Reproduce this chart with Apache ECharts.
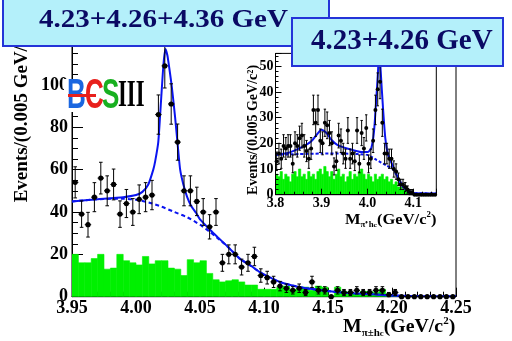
<!DOCTYPE html>
<html>
<head>
<meta charset="utf-8">
<script src="https://cdn.jsdelivr.net/npm/echarts@6.0.0/dist/echarts.min.js"></script>
<style>
  html, body { margin: 0; padding: 0; background: #fff; }
  #chart { width: 512px; height: 341px; }
</style>
</head>
<body>
<div id="chart"></div>
<script>
// ---- binning ----
const binWidth = 0.005;
const mainLowEdge = 3.95;
const insetLowEdge = 3.80;

// ---- main panel: 4.23+4.26+4.36 GeV, M(pi h_c) from 3.95 to 4.25 ----
const mainCounts = [
  54, 39, 34, 47, 56, 50, 53, 39, 44, 40,
  46, 47, 48, 86, 109, 91, 73, 50, 50, 45,
  40, 33, 40, 16, 20, 20, 14, 16, 19, 10,
  9, 7, 5, 4, 3, 4, 2, 7, 3, 3,
  0, 3, 2, 2, 3, 2, 2, 3, 3, 1,
  2, 0, 0, 0, 0, 0, 0, 0, 0, 0
];
const mainSideband = [
  20, 16, 16, 18, 20, 13, 13.5, 20, 17, 16,
  15, 19, 15.5, 17, 17, 13.5, 13, 10, 17.5, 16,
  17, 11, 8, 7, 7.5, 8, 7, 5.5, 5.5, 3.5,
  3.5, 3.5, 4.5, 5, 3.5, 3.5, 4.5, 3, 5, 4.5,
  0.5, 4.5, 2.5, 1.5, 1.5, 2.5, 2.5, 2, 3.5, 1,
  0, 0, 0, 0, 0, 0, 0, 0, 0, 0
];
// total fit curve
const mainFitMass = [3.95, 3.97, 3.99, 4.00, 4.005, 4.0096, 4.0135, 4.015, 4.0174, 4.0195,
  4.0215, 4.023, 4.0245, 4.026, 4.028, 4.0305, 4.033, 4.0345, 4.037, 4.040,
  4.043, 4.047, 4.050, 4.058, 4.064, 4.071, 4.076, 4.081, 4.090, 4.097,
  4.105, 4.113, 4.122, 4.133, 4.143, 4.153, 4.169, 4.185, 4.200, 4.215, 4.25];
const mainFitTotal = [45, 46, 47, 48, 49.5, 53, 60, 64, 73, 92,
  110, 117, 114, 108, 99, 85, 69, 60, 53, 47,
  43, 39.5, 36.5, 31.5, 28, 24, 21, 18, 14.5, 11.5,
  9, 6.8, 5.3, 4, 3.2, 2.4, 1.6, 1.1, 0.6, 0.3, 0.2];
// background component of the fit
const mainBkgMass = [3.95, 3.97, 3.99, 4.00, 4.01, 4.02, 4.03, 4.04, 4.05, 4.058,
  4.064, 4.071, 4.076, 4.081, 4.090, 4.097, 4.105, 4.113, 4.122, 4.133,
  4.143, 4.153, 4.169, 4.185, 4.200, 4.215, 4.25];
const mainBkgCurve = [45, 46, 46.3, 45.8, 44.5, 42.5, 40, 37.5, 34, 30.5,
  27.5, 24, 21, 18, 14.5, 11.5, 9, 6.8, 5.3, 4,
  3.2, 2.4, 1.6, 1.1, 0.6, 0.3, 0.2];
const mainXTicks = { min: 3.95, max: 4.25, step: 0.05 };
const mainYTicks = { min: 0, max: 125, step: 20 };

// ---- inset: 4.23+4.26 GeV, M(pi+ h_c) from 3.80 to 4.15 ----
const insetCounts = [
  13, 16, 14, 19, 18, 19, 19, 12, 20, 19,
  22, 23, 19, 17, 14, 18, 33, 28, 33, 21,
  20, 28, 27, 24, 20, 11, 13, 23, 21, 16,
  14, 25, 14, 16, 13, 25, 12, 24, 18, 26,
  12, 14, 21, 33, 41, 44, 28, 16, 16, 14,
  14, 10, 9, 6, 4, 4, 3, 2, 1, 1,
  0, 0, 0, 0, 0, 0, 0, 0, 0, 0
];
const insetSideband = [
  8, 7, 9, 6, 8, 7, 5, 8, 9, 7,
  10, 7, 8, 6, 9, 7, 8, 6, 9, 10,
  8, 11, 9, 7, 9, 6, 8, 10, 7, 8,
  5, 7, 9, 6, 8, 7, 9, 10, 8, 6,
  8, 7, 5, 8, 6, 7, 8, 6, 7, 5,
  6, 4, 5, 3, 3, 2, 2, 1, 1, 1,
  0, 0, 0, 0, 0, 0, 0, 0, 0, 0
];
const insetFitMass = [3.80, 3.827, 3.856, 3.878, 3.8925, 3.90, 3.911, 3.9215, 3.936, 3.958,
  3.987, 4.001, 4.0085, 4.0144, 4.0195, 4.0231, 4.026, 4.029, 4.034, 4.039,
  4.045, 4.056, 4.067, 4.078, 4.088, 4.103, 4.15];
const insetFitTotal = [15.6, 16.2, 18.4, 20.8, 24, 25.3, 24, 21.4, 19.2, 17.9,
  16.6, 16.6, 18.2, 24.6, 37.6, 48, 58, 48, 33.7, 22,
  15.6, 11, 6.5, 3, 1.6, 0.6, 0.5];
const insetBkgMass = [3.80, 3.85, 3.90, 3.95, 4.00, 4.02, 4.04, 4.055, 4.067, 4.078, 4.088, 4.103, 4.15];
const insetBkgCurve = [15.5, 15.8, 16, 16, 15.5, 13.5, 11.5, 10, 6.5, 3, 1.6, 0.6, 0.5];
const insetXTicks = { min: 3.80, max: 4.15, step: 0.1 };
const insetYTicks = { min: 0, max: 55, step: 10 };

// ---- helpers ----
const SERIF = '"Liberation Serif", "Times New Roman", serif';
const BLUE = '#0a14f0';
const GREEN = '#00f000';

function centers(low, n) {
  const out = [];
  for (let i = 0; i < n; i++) out.push(+(low + (i + 0.5) * binWidth).toFixed(4));
  return out;
}
const mainCenters = centers(mainLowEdge, mainCounts.length);
const insetCenters = centers(insetLowEdge, insetCounts.length);

function histRender(params, api) {
  const x = api.value(0), v = api.value(1);
  const a = api.coord([x - binWidth / 2, v]);
  const b = api.coord([x + binWidth / 2, 0]);
  return {
    type: 'rect',
    shape: { x: a[0], y: a[1], width: b[0] - a[0], height: b[1] - a[1] },
    style: { fill: GREEN, stroke: GREEN, lineWidth: 0.6 }
  };
}

function pointRender(dotR, cap) {
  return function (params, api) {
    const x = api.value(0), y = api.value(1), e = api.value(2);
    const c = api.coord([x, y]);
    const hi = api.coord([x, y + e]);
    const lo = api.coord([x, Math.max(y - e, 0)]);
    const l = api.coord([x - binWidth / 2, y]);
    const r = api.coord([x + binWidth / 2, y]);
    const st = { stroke: '#000', lineWidth: 1 };
    const kids = [
      { type: 'line', shape: { x1: l[0], y1: c[1], x2: r[0], y2: c[1] }, style: st },
      { type: 'circle', shape: { cx: c[0], cy: c[1], r: dotR }, style: { fill: '#000' } }
    ];
    if (e > 0) {
      kids.push(
        { type: 'line', shape: { x1: c[0], y1: hi[1], x2: c[0], y2: lo[1] }, style: st },
        { type: 'line', shape: { x1: c[0] - cap, y1: hi[1], x2: c[0] + cap, y2: hi[1] }, style: st },
        { type: 'line', shape: { x1: c[0] - cap, y1: lo[1], x2: c[0] + cap, y2: lo[1] }, style: st }
      );
    }
    return { type: 'group', children: kids };
  };
}

const zip = (xs, ys) => xs.map((x, i) => [x, ys[i]]);

function valueAxis(t, idx, opts) {
  return Object.assign({
    type: 'value',
    gridIndex: idx,
    min: t.min, max: t.max, interval: t.step,
    axisLine: { show: true, onZero: false, lineStyle: { color: '#000', width: 1 } },
    splitLine: { show: false },
    axisTick: { show: true, inside: true, length: 10, lineStyle: { color: '#000' } },
    minorTick: { show: true, splitNumber: 5, length: 5, lineStyle: { color: '#000' } },
    axisLabel: {
      showMaxLabel: false,
      color: '#000', fontFamily: SERIF, fontWeight: 'bold', fontSize: 18, margin: 3
    }
  }, opts || {});
}

const chart = echarts.init(document.getElementById('chart'), null, { renderer: 'canvas' });

const option = {
  backgroundColor: '#fff',
  animation: false,
  grid: [
    { left: 72, right: 56, top: 32, bottom: 44.3, show: true, borderColor: '#000', borderWidth: 1,
      backgroundColor: 'transparent', containLabel: false, outerBoundsMode: 'none', z: 0 },
    { left: 275.5, right: 75.7, top: 53.4, bottom: 146.3, show: true, borderColor: '#000', borderWidth: 1,
      backgroundColor: '#fff', containLabel: false, outerBoundsMode: 'none', z: 5 }
  ],
  xAxis: [
    valueAxis(mainXTicks, 0, {
      axisTick: { show: true, inside: true, length: 9, lineStyle: { color: '#000' } },
      axisLabel: { showMaxLabel: true, color: '#000', fontFamily: SERIF, fontWeight: 'bold', fontSize: 18, margin: 3,
        formatter: v => v.toFixed(2) }
    }),
    valueAxis(insetXTicks, 1, {
      z: 8,
      axisTick: { show: true, inside: true, length: 6, lineStyle: { color: '#000' } },
      minorTick: { show: true, splitNumber: 5, length: 3, lineStyle: { color: '#000' } },
      axisLabel: { showMaxLabel: false, color: '#000', fontFamily: SERIF, fontWeight: 'bold', fontSize: 14, margin: 2,
        formatter: v => v.toFixed(1) }
    })
  ],
  yAxis: [
    valueAxis(mainYTicks, 0, {
      axisTick: { show: true, inside: true, length: 11, lineStyle: { color: '#000' } },
      minorTick: { show: true, splitNumber: 4, length: 6, lineStyle: { color: '#000' } },
      axisLabel: { showMaxLabel: false, color: '#000', fontFamily: SERIF, fontWeight: 'bold', fontSize: 18, margin: 4 }
    }),
    valueAxis(insetYTicks, 1, {
      z: 8,
      axisTick: { show: true, inside: true, length: 6, lineStyle: { color: '#000' } },
      minorTick: { show: true, splitNumber: 5, length: 3, lineStyle: { color: '#000' } },
      axisLabel: { showMaxLabel: false, color: '#000', fontFamily: SERIF, fontWeight: 'bold', fontSize: 14, margin: 2 }
    })
  ],
  series: [
    // main panel
    { type: 'custom', name: 'sideband', xAxisIndex: 0, yAxisIndex: 0, z: 1, clip: true,
      renderItem: histRender, data: zip(mainCenters, mainSideband) },
    { type: 'line', name: 'background', xAxisIndex: 0, yAxisIndex: 0, z: 2, symbol: 'none', smooth: 0.2,
      lineStyle: { color: BLUE, width: 2, type: [4, 3] }, data: zip(mainBkgMass, mainBkgCurve) },
    { type: 'line', name: 'fit', xAxisIndex: 0, yAxisIndex: 0, z: 3, symbol: 'none', smooth: 0.2,
      lineStyle: { color: BLUE, width: 2 }, data: zip(mainFitMass, mainFitTotal) },
    { type: 'custom', name: 'data', xAxisIndex: 0, yAxisIndex: 0, z: 4,
      renderItem: pointRender(2.6, 1.8),
      data: mainCounts.map((n, i) => [mainCenters[i], n, Math.sqrt(n)]) },
    // inset
    { type: 'custom', name: 'sideband inset', xAxisIndex: 1, yAxisIndex: 1, z: 6, clip: true,
      renderItem: histRender, data: zip(insetCenters, insetSideband) },
    { type: 'line', name: 'background inset', xAxisIndex: 1, yAxisIndex: 1, z: 7, symbol: 'none', smooth: 0.2,
      lineStyle: { color: BLUE, width: 2, type: [3, 2] }, data: zip(insetBkgMass, insetBkgCurve) },
    { type: 'line', name: 'fit inset', xAxisIndex: 1, yAxisIndex: 1, z: 7, symbol: 'none', smooth: 0.2,
      lineStyle: { color: BLUE, width: 2 }, data: zip(insetFitMass, insetFitTotal) },
    { type: 'custom', name: 'data inset', xAxisIndex: 1, yAxisIndex: 1, z: 8,
      renderItem: pointRender(2, 1.2),
      data: insetCounts.map((n, i) => [insetCenters[i], n, Math.sqrt(n)]) }
  ],
  graphic: [
    // y-axis titles
    { type: 'text', z: 20, x: 22, y: 114, rotation: Math.PI / 2,
      style: { text: 'Events/(0.005 GeV/c\u00b2)', fill: '#000', font: 'bold 19px ' + SERIF,
        align: 'center', verticalAlign: 'middle' } },
    { type: 'text', z: 20, x: 253, y: 130, rotation: Math.PI / 2,
      style: { text: 'Events/(0.005 GeV/c\u00b2)', fill: '#000', font: 'bold 14px ' + SERIF,
        align: 'center', verticalAlign: 'middle' } },
    // x-axis titles
    { type: 'text', z: 20, x: 343, y: 316, scaleX: 1.1,
      style: {
        text: '{m|M}{s|\u03c0\u00b1h}{ss|c}{m|(GeV/c}{sup|2}{m|)}',
        verticalAlign: 'top',
        rich: {
          m: { fontFamily: SERIF, fontWeight: 'bold', fontSize: 18, lineHeight: 22, fill: '#000' },
          s: { fontFamily: SERIF, fontWeight: 'bold', fontSize: 10, lineHeight: 8, verticalAlign: 'bottom', fill: '#000' },
          ss: { fontFamily: SERIF, fontWeight: 'bold', fontSize: 8, lineHeight: 4, verticalAlign: 'bottom', fill: '#000' },
          sup: { fontFamily: SERIF, fontWeight: 'bold', fontSize: 10, lineHeight: 10, verticalAlign: 'top', fill: '#000' }
        }
      } },
    { type: 'text', z: 20, x: 345, y: 211, scaleX: 1.1,
      style: {
        text: '{m|M}{s|\u03c0\u207ah}{ss|c}{m|(GeV/c}{sup|2}{m|)}',
        verticalAlign: 'top',
        rich: {
          m: { fontFamily: SERIF, fontWeight: 'bold', fontSize: 15, lineHeight: 18, fill: '#000' },
          s: { fontFamily: SERIF, fontWeight: 'bold', fontSize: 8, lineHeight: 6, verticalAlign: 'bottom', fill: '#000' },
          ss: { fontFamily: SERIF, fontWeight: 'bold', fontSize: 7, lineHeight: 3, verticalAlign: 'bottom', fill: '#000' },
          sup: { fontFamily: SERIF, fontWeight: 'bold', fontSize: 8, lineHeight: 8, verticalAlign: 'top', fill: '#000' }
        }
      } },
    // BESIII logo
    { type: 'rect', z: 30, shape: { x: 64, y: 79, width: 78, height: 33 }, style: { fill: '#fff' } },
    { type: 'text', z: 31, x: 67, y: 96, scaleX: 0.62,
      style: { text: 'B', fill: '#1a66e0', font: 'bold 42px "Liberation Sans", Arial, sans-serif', verticalAlign: 'middle' } },
    { type: 'text', z: 31, x: 85, y: 96, scaleX: 0.62,
      style: { text: 'C', fill: '#e8201c', font: 'bold 42px "Liberation Sans", Arial, sans-serif', verticalAlign: 'middle' } },
    { type: 'rect', z: 32, shape: { x: 68, y: 94, width: 28, height: 3 }, style: { fill: '#e8201c' } },
    { type: 'text', z: 31, x: 102, y: 96, scaleX: 0.62,
      style: { text: 'S', fill: '#18b020', font: 'bold 42px "Liberation Sans", Arial, sans-serif', verticalAlign: 'middle' } },
    { type: 'text', z: 31, x: 118, y: 96, scaleX: 0.6,
      style: { text: 'III', fill: '#000', font: 'bold 38px ' + SERIF, verticalAlign: 'middle' } },
    // energy labels
    { type: 'rect', z: 40, shape: { x: 3, y: -3, width: 326, height: 49 },
      style: { fill: '#b4f0fa', stroke: '#2434d8', lineWidth: 2 } },
    { type: 'text', z: 41, x: 39, y: 21, scaleX: 1.16,
      style: { text: '4.23+4.26+4.36 GeV', fill: '#0a0a64', font: 'bold 25px ' + SERIF, verticalAlign: 'middle' } },
    { type: 'rect', z: 42, shape: { x: 292, y: 18, width: 211, height: 48 },
      style: { fill: '#b4f0fa', stroke: '#2434d8', lineWidth: 2 } },
    { type: 'text', z: 43, x: 311, y: 42,
      style: { text: '4.23+4.26 GeV', fill: '#0a0a64', font: 'bold 29px ' + SERIF, verticalAlign: 'middle' } }
  ]
};

chart.setOption(option);
</script>
</body>
</html>
